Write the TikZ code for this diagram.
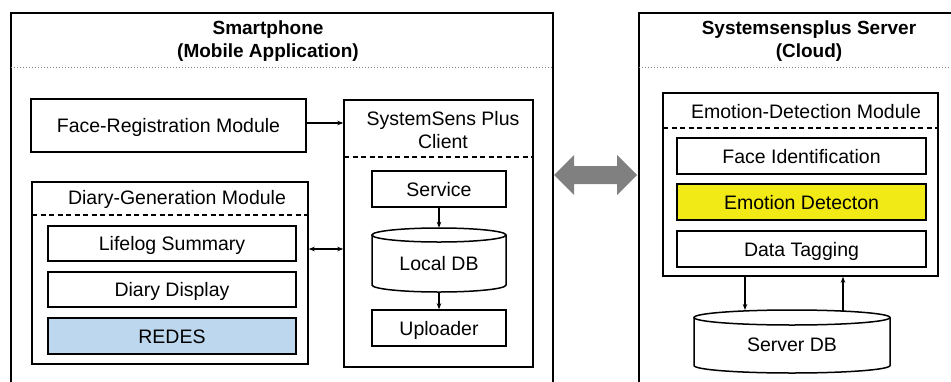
\documentclass[tikz,border=0pt]{standalone}
\usepackage{fontspec}
\setmainfont{Liberation Sans}
\usetikzlibrary{arrows.meta}
\definecolor{redesblue}{RGB}{189,215,238}
\definecolor{emoyellow}{RGB}{242,234,22}
\definecolor{arrowgray}{RGB}{128,128,128}
\tikzset{
  outer/.style={line width=2.2pt},
  box/.style={draw, line width=1.5pt, inner sep=0pt, text height=14pt, text depth=0pt, font=\fontsize{19.5}{23}\selectfont},
  titletext/.style={align=center, inner sep=0pt, font=\fontsize{19}{23}\bfseries},
  modtitle/.style={align=center, inner sep=0pt, font=\fontsize{19.5}{23}\selectfont},
  sepdot/.style={dotted, gray, line width=1pt},
  sepdash/.style={dash pattern=on 5pt off 3.5pt, line width=1.2pt},
  conn/.style={line width=1.2pt, -{Stealth[length=6pt,width=4.5pt]}},
  dconn/.style={line width=1.2pt, {Stealth[length=6pt,width=4.5pt]}-{Stealth[length=6pt,width=4.5pt]}},
  cyl/.style={draw, line width=1.5pt, fill=white},
  cyltext/.style={inner sep=0pt, text height=14pt, text depth=0pt, font=\fontsize{19.5}{23}\selectfont}
}
\begin{document}
\begin{tikzpicture}[x=1pt,y=-1pt]
\useasboundingbox (0,0) rectangle (951,381);
\clip (0,0) rectangle (951,381);

% ---------- Smartphone ----------
\draw[outer] (11,395) -- (11,13) -- (553,13) -- (553,395);
\node[titletext] (smtitle) at (268,41) {Smartphone\\(Mobile Application)};
\draw[sepdot] (11,67) -- (553,67);

\node[box, minimum width=275pt, minimum height=53pt] (facereg) at (168.5,125.5) {Face-Registration Module};

% client
\node[box, minimum width=189pt, minimum height=267pt] (client) at (438.5,233.5) {};
\node[modtitle] (clienttitle) at (443,130) {SystemSens Plus\\Client};
\draw[sepdash] (344,157) -- (533,157);
\node[box, minimum width=134pt, minimum height=36pt] (service) at (439,189) {Service};
% local DB cylinder
\draw[cyl] (372,235) -- (372,285) arc[start angle=180, end angle=360, x radius=67pt, y radius=7pt] -- (506,235);
\draw[cyl] (439,235) ellipse [x radius=67pt, y radius=7pt];
\node[cyltext, minimum width=134pt, minimum height=64pt] (localdb) at (439,260) {\raisebox{-3pt}{Local DB}};
\node[box, minimum width=134pt, minimum height=36pt] (uploader) at (439,328) {Uploader};

% diary generation
\node[box, minimum width=276pt, minimum height=182pt] (diary) at (170,273) {};
\node[modtitle] (diarytitle) at (177,199) {Diary-Generation Module};
\draw[sepdash] (32,215) -- (308,215);
\node[box, minimum width=248pt, minimum height=35pt] (lifelog) at (172,243.5) {Lifelog Summary};
\node[box, minimum width=248pt, minimum height=35pt] (display) at (172,289.5) {Diary Display};
\node[box, fill=redesblue, minimum width=248pt, minimum height=36pt] (redes) at (172,336) {REDES};

% connectors
\draw[conn] (facereg.east |- 0,123) -- (client.west |- 0,123);
\draw[dconn] (diary.east |- 0,249) -- (client.west |- 0,249);
\draw[conn] (service) -- (service |- localdb.north);
\draw[conn] (localdb) -- (uploader);

% ---------- gray double arrow ----------
\fill[arrowgray] (554,175) -- (574,155) -- (574,166) -- (617,166) -- (617,155) -- (637,175)
  -- (617,195) -- (617,184) -- (574,184) -- (574,195) -- cycle;

% ---------- Server ----------
\draw[outer] (639,395) -- (639,13) -- (960,13);
\node[titletext] (svtitle) at (809,41) {Systemsensplus Server\\(Cloud)};
\draw[sepdot] (639,67) -- (960,67);

\node[box, minimum width=275pt, minimum height=183pt] (emodule) at (800.5,184.5) {};
\node[modtitle] (emotitle) at (806,112) {Emotion-Detection Module};
\draw[sepdash] (663,128) -- (938,128);
\node[box, minimum width=249pt, minimum height=36pt] (faceid) at (801.5,156) {Face Identification};
\node[box, fill=emoyellow, minimum width=249pt, minimum height=36pt] (emodet) at (801.5,202) {Emotion Detecton};
\node[box, minimum width=249pt, minimum height=36pt] (tagging) at (801.5,249) {Data Tagging};

% server DB cylinder
\draw[cyl] (694,317.5) -- (694,365.5) arc[start angle=180, end angle=360, x radius=98pt, y radius=7.5pt] -- (890,317.5);
\draw[cyl] (792,317.5) ellipse [x radius=98pt, y radius=7.5pt];
\node[cyltext, minimum width=196pt, minimum height=63pt] (serverdb) at (792,341.5) {\raisebox{-3pt}{Server DB}};

\draw[conn] (emodule.south -| 745,0) -- (745,310);
\draw[conn] (843,311) -- (emodule.south -| 843,0);
\end{tikzpicture}
\end{document}
